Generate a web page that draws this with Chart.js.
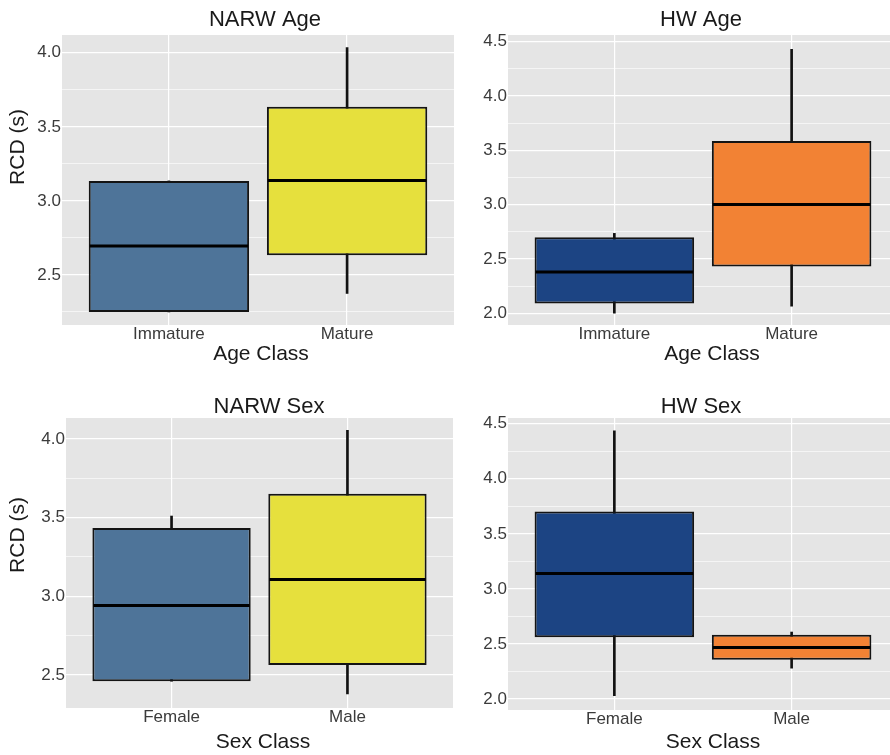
<!DOCTYPE html>
<html>
<head>
<meta charset="utf-8">
<title>RCD by age and sex class</title>
<script src="https://cdn.jsdelivr.net/npm/chart.js@4.4.1/dist/chart.umd.min.js"></script>
<style>
  html, body { margin: 0; padding: 0; background: #fff; overflow: hidden; }
  #wrap { position: relative; width: 890px; height: 755px; }
  canvas { position: absolute; }
</style>
</head>
<body>
<div id="wrap">
  <canvas id="narwAge" width="455" height="378" style="left:0;top:0"></canvas>
  <canvas id="hwAge" width="435" height="378" style="left:455px;top:0"></canvas>
  <canvas id="narwSex" width="455" height="377" style="left:0;top:378px"></canvas>
  <canvas id="hwSex" width="435" height="377" style="left:455px;top:378px"></canvas>
</div>
<script>
const ageClasses = ['Immature', 'Mature'];
const sexClasses = ['Female', 'Male'];
const classPositions = [1, 2];

// box summaries, [first class, second class]
const narwAgeMin = [2.25, 2.375];
const narwAgeQ1 = [2.25, 2.633];
const narwAgeMedian = [2.695, 3.137];
const narwAgeQ3 = [3.135, 3.635];
const narwAgeMax = [3.135, 4.035];

const hwAgeMin = [2.0, 2.065];
const hwAgeQ1 = [2.09, 2.43];
const hwAgeMedian = [2.38, 3.0];
const hwAgeQ3 = [2.70, 3.585];
const hwAgeMax = [2.735, 4.43];

const narwSexMin = [2.46, 2.38];
const narwSexQ1 = [2.46, 2.563];
const narwSexMedian = [2.942, 3.106];
const narwSexQ3 = [3.434, 3.652];
const narwSexMax = [3.51, 4.055];

const hwSexMin = [2.03, 2.28];
const hwSexQ1 = [2.56, 2.356];
const hwSexMedian = [3.14, 2.468];
const hwSexQ3 = [3.703, 2.584];
const hwSexMax = [4.435, 2.608];

const narwTicks = [2.5, 3.0, 3.5, 4.0];
const narwMinorTicks = [2.25, 2.75, 3.25, 3.75];
const hwTicks = [2.0, 2.5, 3.0, 3.5, 4.0, 4.5];
const hwMinorTicks = [2.25, 2.75, 3.25, 3.75, 4.25];

const narwColors = ['#4e7499', '#e6e03d'];
const hwColors = ['#1c4483', '#f28234'];

const FONT = '"Liberation Sans", Arial, Helvetica, sans-serif';

// grey panel behind the grid
const panelBackground = {
    id: 'panelBackground',
    beforeDraw(chart) {
        const { ctx, chartArea: a } = chart;
        ctx.save();
        ctx.fillStyle = '#e5e5e5';
        ctx.fillRect(a.left, a.top, a.right - a.left, a.bottom - a.top);
        ctx.restore();
    }
};

// median line across each box
const medianLines = {
    id: 'medianLines',
    afterDatasetsDraw(chart, args, opts) {
        const meta = chart.getDatasetMeta(1);
        const yScale = chart.scales.y;
        const ctx = chart.ctx;
        ctx.save();
        ctx.strokeStyle = '#000';
        ctx.lineWidth = 3;
        meta.data.forEach((bar, i) => {
            const { x, width } = bar.getProps(['x', 'width'], true);
            const py = yScale.getPixelForValue(opts.values[i]);
            ctx.beginPath();
            ctx.moveTo(x - width / 2 + 1, py);
            ctx.lineTo(x + width / 2 - 1, py);
            ctx.stroke();
        });
        ctx.restore();
    }
};

// panel title and axis titles
const panelText = {
    id: 'panelText',
    afterDraw(chart, args, opts) {
        const ctx = chart.ctx;
        ctx.save();
        ctx.textAlign = 'center';
        ctx.textBaseline = 'middle';
        ctx.fillStyle = '#1a1a1a';
        ctx.font = '22px ' + FONT;
        ctx.fillText(opts.title, opts.titleAt[0], opts.titleAt[1]);
        ctx.font = '21px ' + FONT;
        ctx.fillText(opts.xTitle, opts.xTitleAt[0], opts.xTitleAt[1]);
        if (opts.yTitle) {
            ctx.translate(opts.yTitleAt[0], opts.yTitleAt[1]);
            ctx.rotate(-Math.PI / 2);
            ctx.fillText(opts.yTitle, 0, 0);
        }
        ctx.restore();
    }
};

function makePanel(id, cfg) {
    const allTicks = [...cfg.ticks, ...cfg.minor].sort((a, b) => a - b);
    return new Chart(document.getElementById(id), {
        type: 'bar',
        data: {
            datasets: [
                {
                    // whiskers
                    data: classPositions.map((x, i) => ({ x: x, y: [cfg.min[i], cfg.max[i]] })),
                    backgroundColor: '#111',
                    barThickness: 2,
                    grouped: false,
                    order: 2
                },
                {
                    // boxes
                    data: classPositions.map((x, i) => ({ x: x, y: [cfg.q1[i], cfg.q3[i]] })),
                    backgroundColor: cfg.colors,
                    borderColor: '#141414',
                    borderWidth: 2,
                    borderSkipped: false,
                    barPercentage: 0.9,
                    categoryPercentage: 1,
                    grouped: false,
                    order: 1
                }
            ]
        },
        options: {
            responsive: false,
            animation: false,
            devicePixelRatio: 1,
            layout: { padding: { top: cfg.padTop, right: cfg.padRight, left: 0, bottom: 0 } },
            scales: {
                x: {
                    type: 'linear',
                    min: 0.4,
                    max: cfg.xMax,
                    offset: false,
                    grid: { color: '#ffffff', lineWidth: 1.2, drawTicks: false, offset: false },
                    border: { display: false },
                    afterBuildTicks: s => { s.ticks = classPositions.map(v => ({ value: v })); },
                    afterFit: s => { s.height = cfg.xAxisHeight; },
                    ticks: {
                        autoSkip: false,
                        maxRotation: 0,
                        padding: -1,
                        color: '#3b3b3b',
                        font: { family: FONT, size: 17 },
                        callback: (v, i) => cfg.labels[i]
                    }
                },
                y: {
                    min: cfg.yMin,
                    max: cfg.yMax,
                    grid: {
                        color: '#ffffff',
                        lineWidth: c => cfg.ticks.includes(c.tick.value) ? 1.2 : 0.6,
                        drawTicks: false
                    },
                    border: { display: false },
                    afterBuildTicks: s => { s.ticks = allTicks.map(v => ({ value: v })); },
                    afterFit: s => { s.width = cfg.yAxisWidth; },
                    ticks: {
                        autoSkip: false,
                        padding: 1,
                        color: '#3b3b3b',
                        font: { family: FONT, size: 17 },
                        callback: v => cfg.ticks.includes(v) ? v.toFixed(1) : ''
                    }
                }
            },
            plugins: {
                legend: { display: false },
                tooltip: { enabled: false },
                medianLines: { values: cfg.median },
                panelText: cfg.text
            }
        },
        plugins: [panelBackground, medianLines, panelText]
    });
}

makePanel('narwAge', {
    labels: ageClasses, colors: narwColors,
    min: narwAgeMin, q1: narwAgeQ1, median: narwAgeMedian, q3: narwAgeQ3, max: narwAgeMax,
    ticks: narwTicks, minor: narwMinorTicks, yMin: 2.162, yMax: 4.12, xMax: 2.6,
    padTop: 35, padRight: 1, yAxisWidth: 62, xAxisHeight: 53,
    text: { title: 'NARW Age', titleAt: [265, 20], xTitle: 'Age Class', xTitleAt: [261, 354],
            yTitle: 'RCD (s)', yTitleAt: [18, 147] }
});

makePanel('hwAge', {
    labels: ageClasses, colors: hwColors,
    min: hwAgeMin, q1: hwAgeQ1, median: hwAgeMedian, q3: hwAgeQ3, max: hwAgeMax,
    ticks: hwTicks, minor: hwMinorTicks, yMin: 1.891, yMax: 4.562, xMax: 2.555,
    padTop: 35, padRight: 0, yAxisWidth: 53, xAxisHeight: 53,
    text: { title: 'HW Age', titleAt: [246, 20], xTitle: 'Age Class', xTitleAt: [257, 354] }
});

makePanel('narwSex', {
    labels: sexClasses, colors: narwColors,
    min: narwSexMin, q1: narwSexQ1, median: narwSexMedian, q3: narwSexQ3, max: narwSexMax,
    ticks: narwTicks, minor: narwMinorTicks, yMin: 2.29, yMax: 4.133, xMax: 2.6,
    padTop: 40, padRight: 2, yAxisWidth: 66, xAxisHeight: 47,
    text: { title: 'NARW Sex', titleAt: [269, 29], xTitle: 'Sex Class', xTitleAt: [263, 364],
            yTitle: 'RCD (s)', yTitleAt: [18, 157] }
});

makePanel('hwSex', {
    labels: sexClasses, colors: hwColors,
    min: hwSexMin, q1: hwSexQ1, median: hwSexMedian, q3: hwSexQ3, max: hwSexMax,
    ticks: hwTicks, minor: hwMinorTicks, yMin: 1.90, yMax: 4.552, xMax: 2.555,
    padTop: 40, padRight: 0, yAxisWidth: 53, xAxisHeight: 45,
    text: { title: 'HW Sex', titleAt: [246, 29], xTitle: 'Sex Class', xTitleAt: [258, 364] }
});
</script>
</body>
</html>
